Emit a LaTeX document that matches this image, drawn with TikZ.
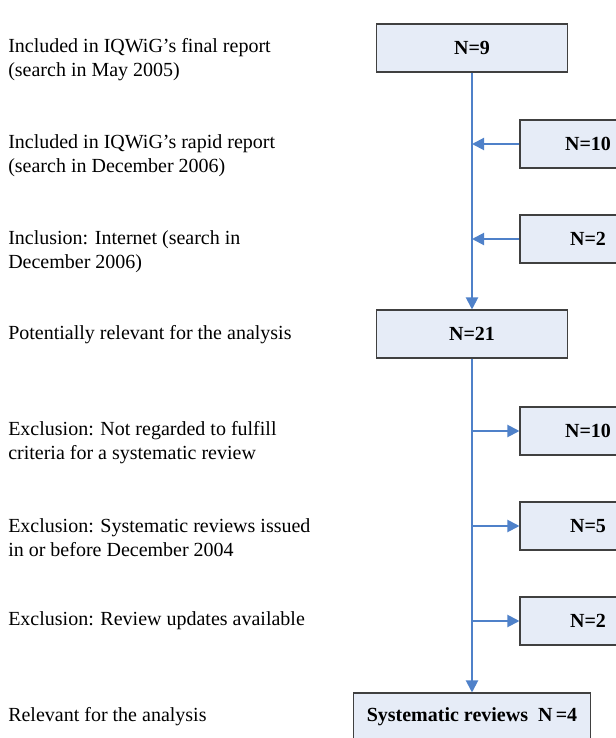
\documentclass[tikz,border=0pt]{standalone}
\usepackage{fontspec}
\setmainfont{Liberation Serif}
\usetikzlibrary{arrows.meta}
\definecolor{boxfill}{RGB}{230,236,247}
\definecolor{flowblue}{RGB}{79,129,201}

\begin{document}
\begin{tikzpicture}[%
      x=0.75pt, y=-0.75pt,
      every node/.style={font=\fontsize{15}{18}\selectfont},
      box/.style={draw=black!75, fill=boxfill, line width=0.8pt,
        minimum height=36pt, font=\fontsize{15}{18}\selectfont\bfseries},
      mainbox/.style={box, minimum width=143pt},
      sidebox/.style={box, minimum width=102pt},
      lefttext/.style={anchor=west, align=left, inner sep=0pt},
      flow/.style={draw=flowblue, line width=1.5pt},
      flowarrow/.style={flow, -{Triangle[length=9pt,width=9pt]}},
      ]
      \useasboundingbox (0,0) rectangle (615,738);

      % left column
      \node[lefttext] (t1) at (8,60) {Included in IQWiG's final report\\(search in May 2005)};
      \node[lefttext] (t2) at (8,156) {Included in IQWiG's rapid report\\(search in December 2006)};
      \node[lefttext] (t3) at (8,252) {Inclusion: Internet (search in\\December 2006)};
      \node[lefttext] (t4) at (8,335) {Potentially relevant for the analysis};
      \node[lefttext] (t5) at (8,443) {Exclusion: Not regarded to fulfill\\criteria for a systematic review};
      \node[lefttext] (t6) at (8,538) {Exclusion: Systematic reviews issued\\in or before December 2004};
      \node[lefttext] (t7) at (8,621) {Exclusion: Review updates available};
      \node[lefttext] (t8) at (8,717) {Relevant for the analysis};

      % boxes
      \node[mainbox] (final) at (472,48) {N=9};
      \node[sidebox] (rapid) at (588,144) {N=10};
      \node[sidebox] (web) at (588,239) {N=2};
      \node[mainbox] (pot) at (472,334) {N=21};
      \node[sidebox] (ex1) at (588,431) {N=10};
      \node[sidebox] (ex2) at (588,526) {N=5};
      \node[sidebox] (ex3) at (588,621) {N=2};
      \node[box, minimum width=178pt] (rel) at (472,717) {Systematic reviews\ \ N\,=4};

      % points on the main line
      \coordinate (in1) at (472,144);
      \coordinate (in2) at (472,239);
      \coordinate (out1) at (472,431);
      \coordinate (out2) at (472,526);
      \coordinate (out3) at (472,621);

      \draw[flowarrow] (final) -- (pot);
      \draw[flowarrow] (rapid) -- (in1);
      \draw[flowarrow] (web) -- (in2);
      \draw[flowarrow] (pot) -- (rel);
      \draw[flowarrow] (out1) -- (ex1);
      \draw[flowarrow] (out2) -- (ex2);
      \draw[flowarrow] (out3) -- (ex3);
      \end{tikzpicture}
\end{document}
